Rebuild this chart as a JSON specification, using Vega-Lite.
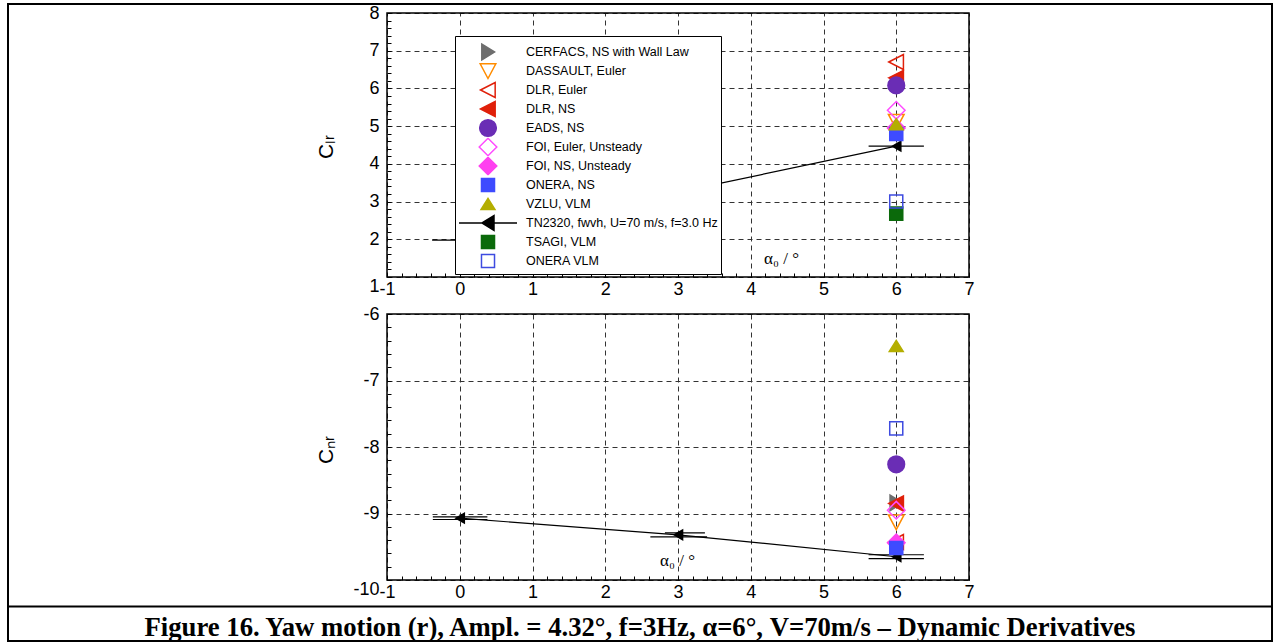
{
  "$schema": "https://vega.github.io/schema/vega-lite/v6.json",
  "width": 1264,
  "height": 637,
  "autosize": {"type": "none"},
  "padding": {"left": 8, "top": 4, "right": 2, "bottom": 1},
  "background": "white",
  "config": {
    "view": {"stroke": "black", "strokeWidth": 2},
    "font": "Liberation Sans",
    "axis": {
      "labelFont": "Liberation Sans",
      "labelFontSize": 18,
      "labelColor": "black",
      "tickColor": "black",
      "tickWidth": 1,
      "domain": false,
      "labelFlush": false,
      "labelOverlap": false,
      "titleFontWeight": "normal",
      "titleColor": "black",
      "gridColor": "#333333",
      "gridDash": [5, 4],
      "gridWidth": 1
    }
  },
  "datasets": {
    "ptsTop": [
      {"series": "DASSAULT, Euler", "alpha0": 6, "Clr": 5.12},
      {"series": "DLR, Euler", "alpha0": 6, "Clr": 6.7},
      {"series": "DLR, NS", "alpha0": 6, "Clr": 6.28},
      {"series": "EADS, NS", "alpha0": 6, "Clr": 6.08},
      {"series": "FOI, Euler, Unsteady", "alpha0": 6, "Clr": 5.42},
      {"series": "FOI, NS, Unsteady", "alpha0": 6, "Clr": 4.95},
      {"series": "ONERA, NS", "alpha0": 6, "Clr": 4.79},
      {"series": "VZLU, VLM", "alpha0": 6, "Clr": 5.05},
      {"series": "TSAGI, VLM", "alpha0": 6, "Clr": 2.68},
      {"series": "ONERA VLM", "alpha0": 6, "Clr": 3.0}
    ],
    "ptsBot": [
      {"series": "CERFACS, NS with Wall Law", "alpha0": 6, "Cnr": -8.84},
      {"series": "DASSAULT, Euler", "alpha0": 6, "Cnr": -9.13},
      {"series": "DLR, Euler", "alpha0": 6, "Cnr": -9.43},
      {"series": "DLR, NS", "alpha0": 6, "Cnr": -8.85},
      {"series": "EADS, NS", "alpha0": 6, "Cnr": -8.26},
      {"series": "FOI, Euler, Unsteady", "alpha0": 6, "Cnr": -8.95},
      {"series": "FOI, NS, Unsteady", "alpha0": 6, "Cnr": -9.44},
      {"series": "ONERA, NS", "alpha0": 6, "Cnr": -9.52},
      {"series": "VZLU, VLM", "alpha0": 6, "Cnr": -6.48},
      {"series": "ONERA VLM", "alpha0": 6, "Cnr": -7.72}
    ],
    "tnTop": [
      {"alpha0": 0, "Clr": 1.98},
      {"alpha0": 3, "Clr": 3.25},
      {"alpha0": 6, "Clr": 4.47}
    ],
    "tnBot": [
      {"alpha0": 0, "Cnr": -9.07},
      {"alpha0": 3, "Cnr": -9.32},
      {"alpha0": 6, "Cnr": -9.65}
    ],
    "barsTop": [
      {"lo": -0.38, "hi": 0.38, "Clr": 1.98},
      {"lo": 2.62, "hi": 3.38, "Clr": 3.25},
      {"lo": 5.62, "hi": 6.38, "Clr": 4.47}
    ],
    "barsBot": [
      {"lo": -0.37, "hi": 0.38, "Cnr": -9.05},
      {"lo": -0.37, "hi": 0.38, "Cnr": -9.09},
      {"lo": 2.82, "hi": 3.37, "Cnr": -9.29},
      {"lo": 2.62, "hi": 3.4, "Cnr": -9.35},
      {"lo": 5.62, "hi": 6.38, "Cnr": -9.62},
      {"lo": 5.62, "hi": 6.38, "Cnr": -9.68}
    ],
    "caption": [
      {"text": "Figure 16. Yaw motion (r), Ampl. = 4.32°, f=3Hz, α=6°, V=70m/s – Dynamic Derivatives"}
    ]
  },
  "resolve": {
    "scale": {"x": "independent", "y": "independent"},
    "axis": {"x": "independent", "y": "independent"}
  },
  "layer": [
    {
      "resolve": {"axis": {"x": "independent", "y": "independent"}},
      "layer": [
        {
          "data": {"values": [{}]},
          "mark": {"type": "rect", "filled": false, "color": "black", "strokeWidth": 1.5},
          "encoding": {
            "x": {
              "datum": -1, "type": "quantitative",
              "scale": {"domain": [-1, 7], "range": [379, 961], "nice": false, "zero": false},
              "axis": {"orient": "top", "tickCount": 8, "grid": true, "domain": false, "ticks": false, "labels": false, "title": null}
            },
            "x2": {"datum": 7},
            "y": {
              "datum": 1, "type": "quantitative",
              "scale": {"domain": [1, 8], "range": [273, 9], "nice": false, "zero": false},
              "axis": {
                "orient": "left", "offset": -379, "tickCount": 7, "grid": true, "ticks": false,
                "labelPadding": 8, "labelExpr": "'' + datum.value",
                "labelBaseline": {"condition": {"test": "datum.value === 1", "value": "top"}, "value": "middle"},
                "title": "Cₗᵣ", "titleFontSize": 21, "titleX": -55, "titleY": 142.5,
                "titleAngle": -90, "titleAlign": "center", "titleBaseline": "alphabetic"
              }
            },
            "y2": {"datum": 8}
          }
        },
        {
          "data": {"name": "tnTop"},
          "mark": {"type": "line", "color": "black", "strokeWidth": 1.2},
          "encoding": {
            "x": {
              "field": "alpha0", "type": "quantitative",
              "axis": {
                "orient": "bottom", "offset": -364, "tickCount": 8, "grid": false, "ticks": false,
                "labelPadding": 3, "labelExpr": "'' + datum.value",
                "title": "α₀ / °", "titleFont": "Liberation Serif", "titleFontSize": 17,
                "titleX": 773, "titleY": -19, "titleAngle": 0, "titleAlign": "center", "titleBaseline": "middle"
              }
            },
            "y": {
              "field": "Clr", "type": "quantitative",
              "axis": {"orient": "right", "offset": -885, "tickCount": 35, "grid": false, "ticks": true, "tickSize": 4, "labels": false, "title": null}
            }
          }
        },
        {
          "data": {"name": "barsTop"},
          "mark": {"type": "rule", "color": "black", "strokeWidth": 1.2},
          "encoding": {
            "x": {
              "field": "lo", "type": "quantitative",
              "axis": {"orient": "top", "offset": -273, "tickCount": 40, "grid": false, "ticks": true, "tickSize": 4, "labels": false, "title": null}
            },
            "x2": {"field": "hi"},
            "y": {"field": "Clr", "type": "quantitative", "axis": null}
          }
        },
        {
          "data": {"name": "tnTop"},
          "mark": {"type": "point", "shape": "triangle-left", "filled": true, "color": "black", "size": 150, "opacity": 1},
          "encoding": {
            "x": {"field": "alpha0", "type": "quantitative", "axis": null},
            "y": {"field": "Clr", "type": "quantitative", "axis": null}
          }
        },
        {
          "data": {"name": "ptsTop"},
          "mark": {"type": "point", "size": 170, "strokeWidth": 1.5, "opacity": 1},
          "encoding": {
            "x": {"field": "alpha0", "type": "quantitative", "axis": null},
            "y": {"field": "Clr", "type": "quantitative", "axis": null},
            "shape": {
              "field": "series", "type": "nominal",
              "scale": {
                "domain": ["CERFACS, NS with Wall Law", "DASSAULT, Euler", "DLR, Euler", "DLR, NS", "EADS, NS", "FOI, Euler, Unsteady", "FOI, NS, Unsteady", "ONERA, NS", "VZLU, VLM", "TN2320, fwvh, U=70 m/s, f=3.0 Hz", "TSAGI, VLM", "ONERA VLM"],
                "range": ["M1,0L-0.95,-1.2L-0.95,1.2Z", "M-1.2,-1.1L1.2,-1.1L0,1.15Z", "M-1.15,0L1.1,-1.15L1.1,1.15Z", "M-1.15,0L1.1,-1.15L1.1,1.15Z", "M-1.28,0A1.28,1.28,0,1,0,1.28,0A1.28,1.28,0,1,0,-1.28,0Z", "M-1.35,0L0,-1.35L1.35,0L0,1.35Z", "M-1.35,0L0,-1.35L1.35,0L0,1.35Z", "square", "M0,-0.85L1.07,0.85L-1.07,0.85Z", "M-4.45,0H4.45M-0.92,0L0.92,-1.15L0.92,1.15Z", "square", "square"]
              },
              "legend": {
                "orient": "none", "legendX": 447, "legendY": 32, "direction": "vertical",
                "title": " ", "titleFontSize": 2, "titlePadding": 1.5, "gridAlign": "all", "clipHeight": 19,
                "padding": 3, "fillColor": "white", "strokeColor": "black",
                "labelFont": "Liberation Sans", "labelFontSize": 12.5, "labelColor": "black", "labelLimit": 400,
                "symbolSize": 170, "symbolStrokeWidth": 1.5, "symbolOpacity": 1,
                "symbolOffset": 22.5, "labelOffset": 30.5, "rowPadding": 0
              }
            },
            "fill": {
              "field": "series", "type": "nominal",
              "scale": {
                "domain": ["CERFACS, NS with Wall Law", "DASSAULT, Euler", "DLR, Euler", "DLR, NS", "EADS, NS", "FOI, Euler, Unsteady", "FOI, NS, Unsteady", "ONERA, NS", "VZLU, VLM", "TN2320, fwvh, U=70 m/s, f=3.0 Hz", "TSAGI, VLM", "ONERA VLM"],
                "range": ["#6E6E6E", "transparent", "transparent", "#E0200A", "#6A2DB5", "transparent", "#FF40F0", "#3E4BFF", "#B4AE00", "#000000", "#0B6A0B", "transparent"]
              },
              "legend": {
                "orient": "none", "legendX": 447, "legendY": 32, "direction": "vertical",
                "title": " ", "titleFontSize": 2, "titlePadding": 1.5, "gridAlign": "all", "clipHeight": 19,
                "padding": 3, "fillColor": "white", "strokeColor": "black",
                "labelFont": "Liberation Sans", "labelFontSize": 12.5, "labelColor": "black", "labelLimit": 400,
                "symbolSize": 170, "symbolStrokeWidth": 1.5, "symbolOpacity": 1,
                "symbolOffset": 22.5, "labelOffset": 30.5, "rowPadding": 0
              }
            },
            "stroke": {
              "field": "series", "type": "nominal",
              "scale": {
                "domain": ["CERFACS, NS with Wall Law", "DASSAULT, Euler", "DLR, Euler", "DLR, NS", "EADS, NS", "FOI, Euler, Unsteady", "FOI, NS, Unsteady", "ONERA, NS", "VZLU, VLM", "TN2320, fwvh, U=70 m/s, f=3.0 Hz", "TSAGI, VLM", "ONERA VLM"],
                "range": ["#6E6E6E", "#FF8C00", "#E0200A", "#E0200A", "#6A2DB5", "#FF4DFF", "#FF40F0", "#3E4BFF", "#B4AE00", "#000000", "#0B6A0B", "#3E4BE0"]
              },
              "legend": {
                "orient": "none", "legendX": 447, "legendY": 32, "direction": "vertical",
                "title": " ", "titleFontSize": 2, "titlePadding": 1.5, "gridAlign": "all", "clipHeight": 19,
                "padding": 3, "fillColor": "white", "strokeColor": "black",
                "labelFont": "Liberation Sans", "labelFontSize": 12.5, "labelColor": "black", "labelLimit": 400,
                "symbolSize": 170, "symbolStrokeWidth": 1.5, "symbolOpacity": 1,
                "symbolOffset": 22.5, "labelOffset": 30.5, "rowPadding": 0
              }
            }
          }
        }
      ]
    },
    {
      "resolve": {"axis": {"x": "independent", "y": "independent"}},
      "layer": [
        {
          "data": {"values": [{}]},
          "mark": {"type": "rect", "filled": false, "color": "black", "strokeWidth": 1.5},
          "encoding": {
            "x": {
              "datum": -1, "type": "quantitative",
              "scale": {"domain": [-1, 7], "range": [379, 961], "nice": false, "zero": false},
              "axis": {"orient": "top", "tickCount": 8, "grid": true, "domain": false, "ticks": false, "labels": false, "title": null}
            },
            "x2": {"datum": 7},
            "y": {
              "datum": -10, "type": "quantitative",
              "scale": {"domain": [-10, -6], "range": [576, 310], "nice": false, "zero": false},
              "axis": {
                "orient": "left", "offset": -379, "tickCount": 4, "grid": true, "ticks": false,
                "labelPadding": 8, "labelExpr": "'' + datum.value",
                "labelBaseline": {"condition": {"test": "datum.value === -10", "value": "top"}, "value": "middle"},
                "title": "Cₙᵣ", "titleFontSize": 21, "titleX": -55, "titleY": 445.5,
                "titleAngle": -90, "titleAlign": "center", "titleBaseline": "alphabetic"
              }
            },
            "y2": {"datum": -6}
          }
        },
        {
          "data": {"name": "tnBot"},
          "mark": {"type": "line", "color": "black", "strokeWidth": 1.2},
          "encoding": {
            "x": {
              "field": "alpha0", "type": "quantitative",
              "axis": {
                "orient": "bottom", "offset": -61, "tickCount": 8, "grid": false, "ticks": false,
                "labelPadding": 3, "labelExpr": "'' + datum.value",
                "title": "α₀ / °", "titleFont": "Liberation Serif", "titleFontSize": 17,
                "titleX": 669, "titleY": -20, "titleAngle": 0, "titleAlign": "center", "titleBaseline": "middle"
              }
            },
            "y": {
              "field": "Cnr", "type": "quantitative",
              "axis": {"orient": "right", "offset": -885, "tickCount": 20, "grid": false, "ticks": true, "tickSize": 4, "labels": false, "title": null}
            }
          }
        },
        {
          "data": {"name": "barsBot"},
          "mark": {"type": "rule", "color": "black", "strokeWidth": 1.2},
          "encoding": {
            "x": {
              "field": "lo", "type": "quantitative",
              "axis": {"orient": "top", "offset": -576, "tickCount": 40, "grid": false, "ticks": true, "tickSize": 4, "labels": false, "title": null}
            },
            "x2": {"field": "hi"},
            "y": {"field": "Cnr", "type": "quantitative", "axis": null}
          }
        },
        {
          "data": {"name": "tnBot"},
          "mark": {"type": "point", "shape": "triangle-left", "filled": true, "color": "black", "size": 150, "opacity": 1},
          "encoding": {
            "x": {"field": "alpha0", "type": "quantitative", "axis": null},
            "y": {"field": "Cnr", "type": "quantitative", "axis": null}
          }
        },
        {
          "data": {"name": "ptsBot"},
          "mark": {"type": "point", "size": 170, "strokeWidth": 1.5, "opacity": 1},
          "encoding": {
            "x": {"field": "alpha0", "type": "quantitative", "axis": null},
            "y": {"field": "Cnr", "type": "quantitative", "axis": null},
            "shape": {
              "field": "series", "type": "nominal",
              "scale": {
                "domain": ["CERFACS, NS with Wall Law", "DASSAULT, Euler", "DLR, Euler", "DLR, NS", "EADS, NS", "FOI, Euler, Unsteady", "FOI, NS, Unsteady", "ONERA, NS", "VZLU, VLM", "TN2320, fwvh, U=70 m/s, f=3.0 Hz", "TSAGI, VLM", "ONERA VLM"],
                "range": ["M1,0L-0.95,-1.2L-0.95,1.2Z", "M-1.2,-1.1L1.2,-1.1L0,1.15Z", "M-1.15,0L1.1,-1.15L1.1,1.15Z", "M-1.15,0L1.1,-1.15L1.1,1.15Z", "M-1.28,0A1.28,1.28,0,1,0,1.28,0A1.28,1.28,0,1,0,-1.28,0Z", "M-1.35,0L0,-1.35L1.35,0L0,1.35Z", "M-1.35,0L0,-1.35L1.35,0L0,1.35Z", "square", "M0,-0.85L1.07,0.85L-1.07,0.85Z", "M-4.45,0H4.45M-0.92,0L0.92,-1.15L0.92,1.15Z", "square", "square"]
              },
              "legend": null
            },
            "fill": {
              "field": "series", "type": "nominal",
              "scale": {
                "domain": ["CERFACS, NS with Wall Law", "DASSAULT, Euler", "DLR, Euler", "DLR, NS", "EADS, NS", "FOI, Euler, Unsteady", "FOI, NS, Unsteady", "ONERA, NS", "VZLU, VLM", "TN2320, fwvh, U=70 m/s, f=3.0 Hz", "TSAGI, VLM", "ONERA VLM"],
                "range": ["#6E6E6E", "transparent", "transparent", "#E0200A", "#6A2DB5", "transparent", "#FF40F0", "#3E4BFF", "#B4AE00", "#000000", "#0B6A0B", "transparent"]
              },
              "legend": null
            },
            "stroke": {
              "field": "series", "type": "nominal",
              "scale": {
                "domain": ["CERFACS, NS with Wall Law", "DASSAULT, Euler", "DLR, Euler", "DLR, NS", "EADS, NS", "FOI, Euler, Unsteady", "FOI, NS, Unsteady", "ONERA, NS", "VZLU, VLM", "TN2320, fwvh, U=70 m/s, f=3.0 Hz", "TSAGI, VLM", "ONERA VLM"],
                "range": ["#6E6E6E", "#FF8C00", "#E0200A", "#E0200A", "#6A2DB5", "#FF4DFF", "#FF40F0", "#3E4BFF", "#B4AE00", "#000000", "#0B6A0B", "#3E4BE0"]
              },
              "legend": null
            }
          }
        }
      ]
    },
    {
      "data": {"name": "caption"},
      "mark": {"type": "text", "font": "Liberation Serif", "fontWeight": "bold", "fontSize": 26.7, "color": "black", "align": "center", "baseline": "alphabetic"},
      "encoding": {
        "x": {
          "datum": 0.5, "type": "quantitative",
          "scale": {"domain": [0, 1], "range": [0, 1264], "nice": false, "zero": false},
          "axis": {"orient": "top", "offset": -602, "domain": true, "domainColor": "black", "domainWidth": 2, "ticks": false, "labels": false, "grid": false, "title": null}
        },
        "y": {
          "datum": 0.143, "type": "quantitative",
          "scale": {"domain": [0, 1], "range": [637, 602], "nice": false, "zero": false},
          "axis": null
        },
        "text": {"field": "text"}
      }
    }
  ]
}
